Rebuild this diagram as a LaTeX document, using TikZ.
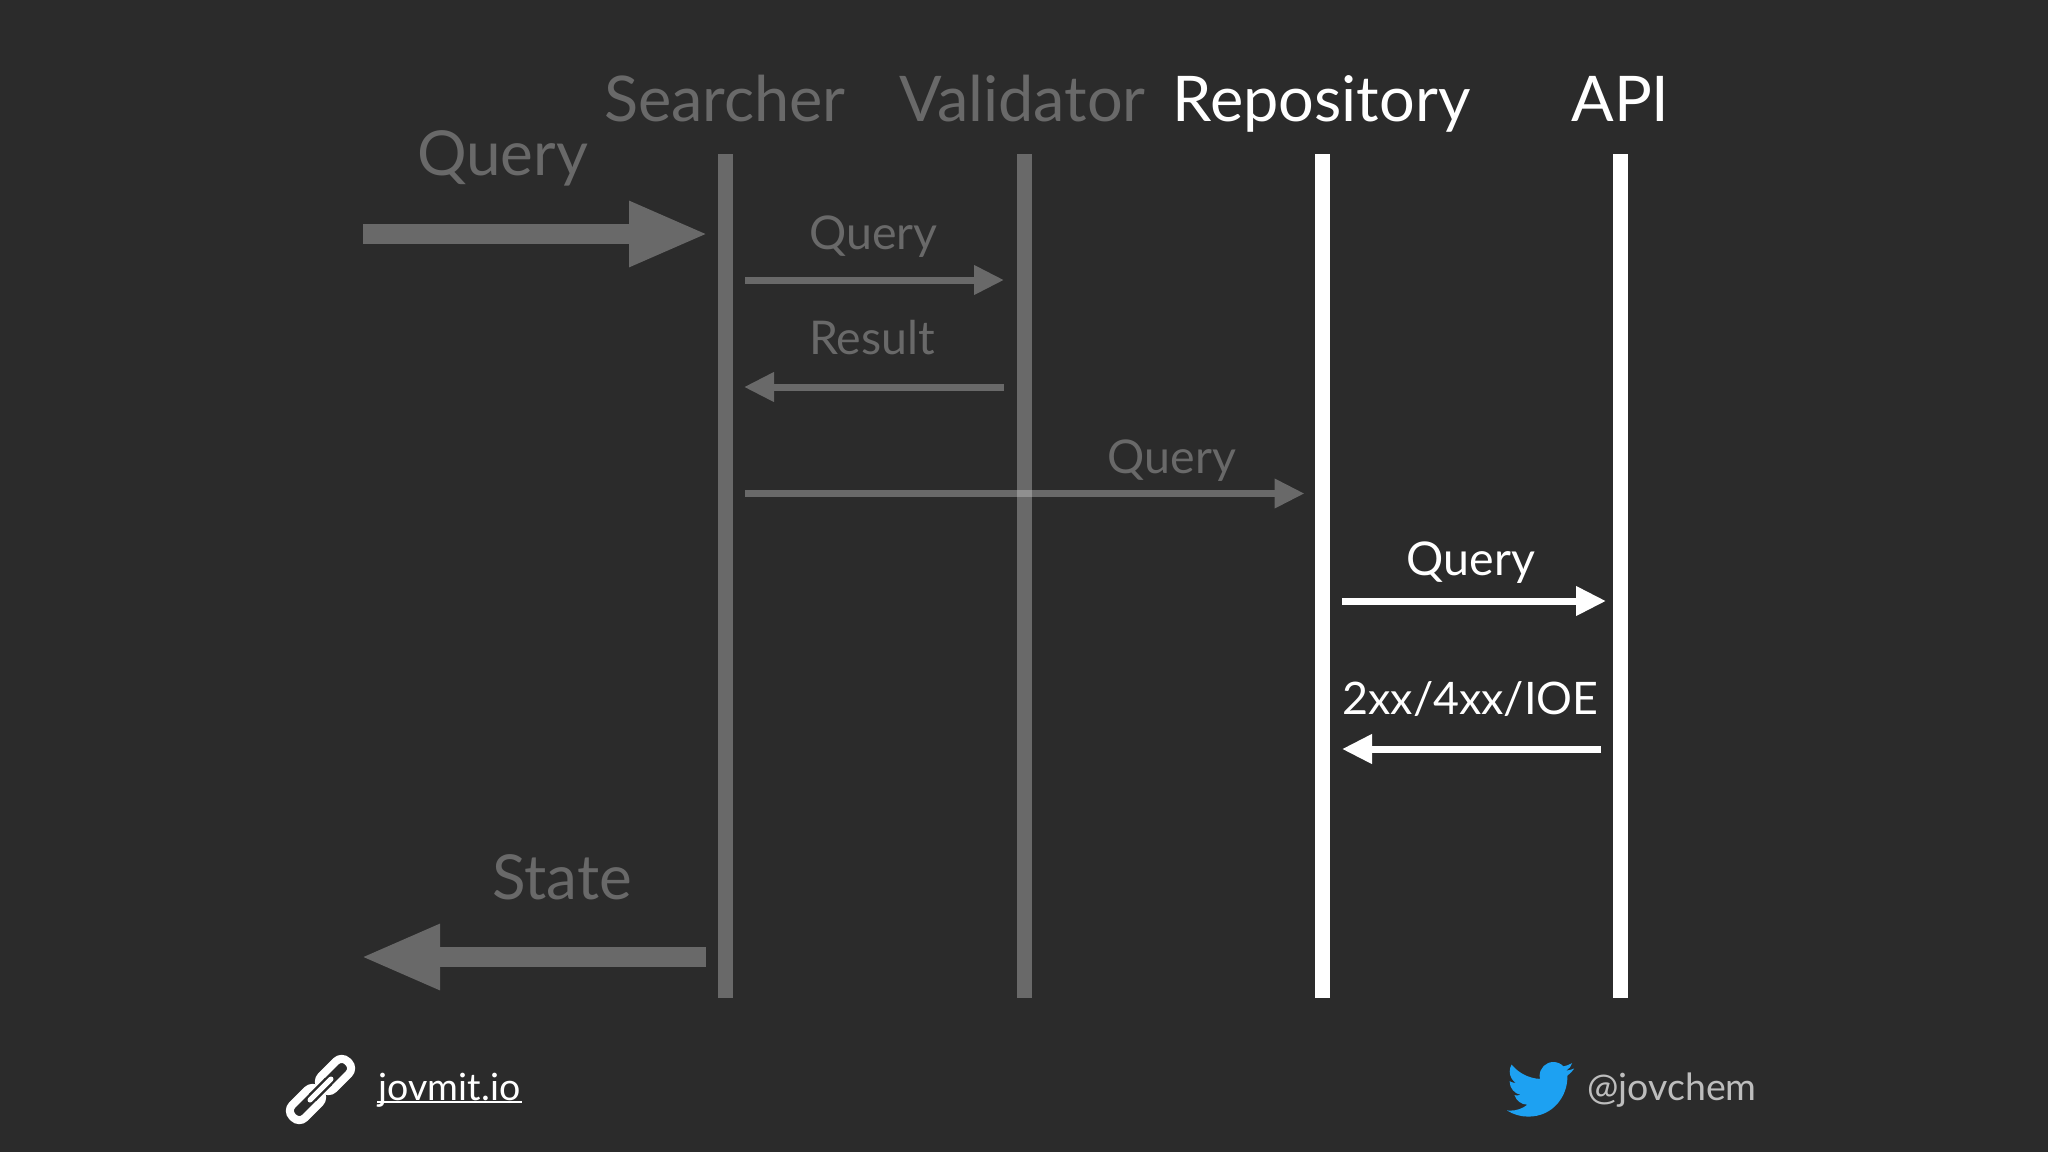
\documentclass[tikz,border=0pt]{standalone}
\usepackage{fontspec}
\setmainfont{Lato}
\usetikzlibrary{arrows.meta}
\definecolor{bgc}{HTML}{2B2B2B}
\definecolor{dim}{HTML}{696969}
\definecolor{cross}{HTML}{909090}
\definecolor{handle}{HTML}{BDBDBD}
\definecolor{bird}{HTML}{1DA1F2}
\tikzset{
  head/.style={font=\fontsize{63}{70}\selectfont,anchor=base,inner sep=0pt},
  big/.style={font=\fontsize{62}{70}\selectfont,anchor=base,inner sep=0pt},
  small/.style={font=\fontsize{46.5}{54}\selectfont,anchor=base,inner sep=0pt},
  status/.style={font=\fontsize{44.8}{54}\selectfont,anchor=base,inner sep=0pt},
  foot/.style={font=\fontsize{37.5}{44}\selectfont,anchor=base,inner sep=0pt},
  life/.style={line width=15pt},
  thin arrow/.style={line width=7pt,-{Triangle[length=30pt,width=28pt]}},
  fat arrow/.style={line width=20pt,-{Triangle[length=80pt,width=60pt]}},
  ring/.style={draw=white,line width=8pt,rounded corners=8pt,minimum width=37pt,minimum height=18pt,inner sep=0pt,rotate=45},
}
\begin{document}
\begin{tikzpicture}[x=1pt,y=-1pt]
\useasboundingbox[fill=bgc] (0,0) rectangle (2048,1152);
% lifeline ends
\coordinate (st) at (725.5,154); \coordinate (sb) at (725.5,998);
\coordinate (vt) at (1024.5,154); \coordinate (vb) at (1024.5,998);
\coordinate (rt) at (1322.5,154); \coordinate (rb) at (1322.5,998);
\coordinate (at) at (1620.5,154); \coordinate (ab) at (1620.5,998);
\draw[life,dim] (st) -- (sb);
\draw[life,dim] (vt) -- (vb);
\draw[life,white] (rt) -- (rb);
\draw[life,white] (at) -- (ab);
% headers
\node[head,dim] (hs) at (725,121) {Searcher};
\node[head,dim] (hv) at (1022.5,121) {Validator};
\node[head,white] (hr) at (1321.5,121) {Repository};
\node[head,white] (ha) at (1620.5,121) {API};
% arrows
\coordinate (a1s) at (363,234); \coordinate (a1e) at (709,234);
\draw[fat arrow,dim] (a1s) -- (a1e);
\node[big,dim] (l1) at (502.5,175.5) {Query};
\coordinate (a2s) at (745,280); \coordinate (a2e) at (1004,280);
\draw[thin arrow,dim] (a2s) -- (a2e);
\node[small,dim] (l2) at (873.5,249) {Query};
\coordinate (a3s) at (1004,387); \coordinate (a3e) at (744,387);
\draw[thin arrow,dim] (a3s) -- (a3e);
\node[small,dim] (l3) at (872,354) {Result};
\coordinate (a4s) at (745,493.5); \coordinate (a4e) at (1304.5,493.5);
\draw[thin arrow,dim] (a4s) -- (a4e);
\fill[cross] (1017,490) rectangle (1032,497);
\node[small,dim] (l4) at (1172,473.5) {Query};
\coordinate (a5s) at (1342,601); \coordinate (a5e) at (1606,601);
\draw[thin arrow,white] (a5s) -- (a5e);
\node[small,white] (l5) at (1471,575.5) {Query};
\coordinate (a6s) at (1601,749); \coordinate (a6e) at (1342,749);
\draw[thin arrow,white] (a6s) -- (a6e);
\node[status,white] (l6) at (1470.5,714) {2xx/4xx/IOE};
\coordinate (a7s) at (706,957); \coordinate (a7e) at (360,957);
\draw[fat arrow,dim] (a7s) -- (a7e);
\node[big,dim] (l7) at (562,899) {State};
% footer
\node[ring] (linkb) at (306,1104) {};
\node[ring] (linka) at (335,1075) {};
\coordinate (gaps) at (312.5,1097.5); \coordinate (gape) at (328.5,1081.5);
\draw[bgc,line width=10pt] (gaps) -- (gape);
\coordinate (bars) at (310,1100); \coordinate (bare) at (331,1079);
\draw[white,line width=5pt,line cap=round] (bars) -- (bare);
\node[foot,white] (site) at (449.5,1100.5) {jovmit.io};
\coordinate (uls) at (377,1102); \coordinate (ule) at (522,1102);
\draw[white,line width=2pt] (uls) -- (ule);
\node[foot,handle] (tw) at (1672,1100.5) {@jovchem};
\begin{scope}[shift={(1507,1055.7)},x=2.8pt,y=-2.8pt]
\fill[bird] (23.953,4.57) .. controls (23.07,4.96) and (22.12,5.22) .. (21.128,5.345)
 .. controls (22.14,4.74) and (22.92,3.77) .. (23.291,2.622)
 .. controls (22.34,3.177) and (21.286,3.581) .. (20.164,3.806)
 .. controls (19.27,2.85) and (17.99,2.25) .. (16.57,2.25)
 .. controls (13.85,2.25) and (11.65,4.45) .. (11.65,7.17)
 .. controls (11.65,7.55) and (11.69,7.93) .. (11.78,8.288)
 .. controls (7.69,8.095) and (4.067,6.13) .. (1.64,3.162)
 .. controls (1.22,3.89) and (0.974,4.73) .. (0.974,5.637)
 .. controls (0.974,7.347) and (1.844,8.85) .. (3.162,9.733)
 .. controls (2.36,9.71) and (1.6,9.49) .. (0.934,9.117)
 -- (0.934,9.177)
 .. controls (0.934,11.56) and (2.63,13.55) .. (4.88,14.004)
 .. controls (4.47,14.12) and (4.03,14.18) .. (3.58,14.18)
 .. controls (3.27,14.18) and (2.96,14.15) .. (2.668,14.089)
 .. controls (3.29,16.04) and (5.11,17.46) .. (7.272,17.506)
 .. controls (5.59,18.83) and (3.47,19.61) .. (1.17,19.611)
 .. controls (0.78,19.611) and (0.391,19.588) .. (0,19.544)
 .. controls (2.18,20.94) and (4.77,21.753) .. (7.557,21.753)
 .. controls (16.61,21.753) and (21.555,14.257) .. (21.555,7.768)
 .. controls (21.555,7.558) and (21.555,7.348) .. (21.54,7.138)
 .. controls (22.5,6.44) and (23.34,5.57) .. (24,4.59) -- cycle;
\end{scope}
\end{tikzpicture}
\end{document}
